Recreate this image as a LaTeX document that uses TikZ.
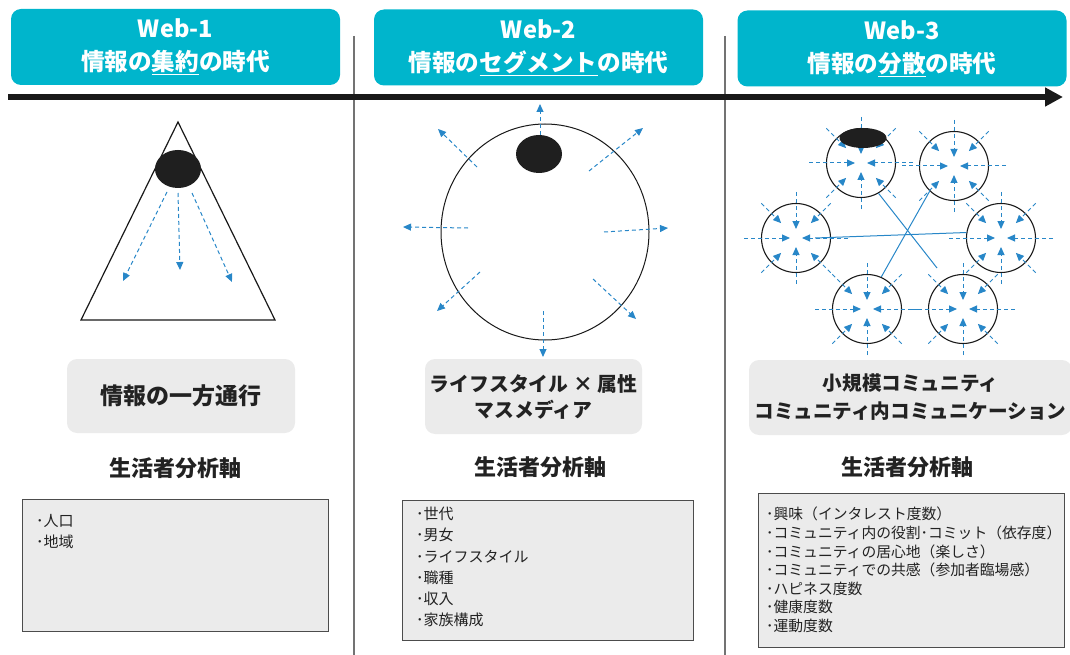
\documentclass[tikz,border=0pt]{standalone}
\usepackage{fontspec}
\setmainfont{Noto Sans CJK JP}
\usetikzlibrary{arrows.meta,calc,shapes.geometric}
\definecolor{hdrteal}{RGB}{0,181,204}
\definecolor{arrblue}{RGB}{40,135,200}
\definecolor{boxgray}{RGB}{235,235,235}
\definecolor{txtdark}{RGB}{34,34,34}
\begin{document}
\begin{tikzpicture}[x=1pt,y=-1pt,
  hdr/.style={rounded corners=10pt, fill=hdrteal, minimum width=329pt, minimum height=76pt,
    text=white, font=\bfseries\fontsize{23.6}{33}\selectfont, align=center, inner sep=0pt},
  sepline/.style={draw=black!55, line width=1.5pt},
  blob/.style={ellipse, fill=black!88, inner sep=0pt},
  darr/.style={draw=arrblue, line width=1pt, dash pattern=on 4pt off 3pt,
    -{Triangle[length=8pt,width=7pt]}},
  solidblue/.style={draw=arrblue, line width=1pt},
  gbox/.style={rounded corners=10pt, fill=boxgray, inner sep=0pt, align=center,
    text=txtdark},
  axis/.style={font=\bfseries\fontsize{22}{26}\selectfont, text=txtdark},
  listbox/.style={draw=black!70, line width=1pt, fill=boxgray, inner sep=0pt, anchor=north west},
  listtxt/.style={anchor=north west, align=left, inner sep=0pt, text=txtdark},
  smallc/.style={circle, draw=black!90, line width=1.1pt, minimum size=69pt, inner sep=0pt}
]
\useasboundingbox (0,0) rectangle (1070,655);

% headers
\node[hdr] (h1) at (175.5,47) {Web-1\\情報の\underline{集約}の時代};
\node[hdr] (h2) at (538.5,47.5) {Web-2\\情報の\underline{セグメント}の時代};
\node[hdr] (h3) at (902,48.5) {Web-3\\情報の\underline{分散}の時代};

% separators
\coordinate (s1t) at (354,36); \coordinate (s1b) at (354,655);
\coordinate (s2t) at (725,36); \coordinate (s2b) at (725,655);
\draw[sepline] (s1t) -- (s1b);
\draw[sepline] (s2t) -- (s2b);

% timeline
\coordinate (tl0) at (8,97); \coordinate (tl1) at (1063,97);
\draw[line width=6pt, black!90, -{Triangle[length=18pt,width=18pt]}] (tl0) -- (tl1);

% ---------- panel 1 ----------
\coordinate (tA) at (178,122); \coordinate (tL) at (81,320); \coordinate (tR) at (275,320);
\draw[line width=1.2pt, black!90] (tA) -- (tL) -- (tR) -- cycle;
\node[blob, minimum width=46pt, minimum height=38pt] (b1) at (178,169) {};
\draw[darr] (167,192) -- (123,281);
\draw[darr] (178,193) -- (180,270);
\draw[darr] (192,193) -- (232,282);

\node[gbox, minimum width=228pt, minimum height=74pt, font=\bfseries\fontsize{23}{27}\selectfont] (g1) at (181,396) {情報の一方通行};
\node[axis] (a1) at (175,468) {生活者分析軸};
\node[listbox, minimum width=306pt, minimum height=132pt] (l1) at (22,499) {};
\node[listtxt, font=\fontsize{15}{21}\selectfont] (t1) at (36,514) {･人口\\･地域};

% ---------- panel 2 ----------
\node[ellipse, draw=black!90, line width=1pt, minimum width=208pt, minimum height=216pt, inner sep=0pt] (c2) at (545,232) {};
\node[blob, minimum width=46pt, minimum height=38pt] (b2) at (539,154) {};
\draw[darr] (540,135) -- (540,104);
\draw[darr] (477,167) -- (438,129);
\draw[darr] (589,171) -- (643,128);
\draw[darr] (468,228) -- (403,227);
\draw[darr] (604,232) -- (668,228);
\draw[darr] (480,272) -- (437,311);
\draw[darr] (593,279) -- (636,319);
\draw[darr] (543,311) -- (543,357);

\node[gbox, minimum width=217pt, minimum height=75pt, font=\bfseries\fontsize{19.8}{26}\selectfont] (g2) at (533.5,396.5) {ライフスタイル × 属性\\マスメディア};
\node[axis] (a2) at (540,467) {生活者分析軸};
\node[listbox, minimum width=291pt, minimum height=140pt] (l2) at (402,500) {};
\node[listtxt, font=\fontsize{15}{21.2}\selectfont] (t2) at (416,507) {･世代\\･男女\\･ライフスタイル\\･職種\\･収入\\･家族構成};

% ---------- panel 3 ----------
\node[smallc] (p1) at (861,163) {};
\node[smallc] (p2) at (954,166) {};
\node[smallc] (p3) at (796,238) {};
\node[smallc] (p4) at (1001,238) {};
\node[smallc] (p5) at (867,309) {};
\node[smallc] (p6) at (963,309) {};
\foreach \c in {p1,p2,p3,p4,p5,p6}{
  \foreach \a in {0,180}{\draw[darr] ($(\c)+(\a:52pt)$) -- ($(\c)+(\a:6pt)$);}
  \foreach \a in {90,270}{\draw[darr] ($(\c)+(\a:46pt)$) -- ($(\c)+(\a:9pt)$);}
  \foreach \a in {45,135,225,315}{\draw[darr] ($(\c)+(\a:49pt)$) -- ($(\c)+(\a:21pt)$);}
}
\node[blob, minimum width=47pt, minimum height=20pt] (b3) at (863,138) {};
\coordinate (e6) at (937,268);
\draw[solidblue] (p1.300) -- (e6);
\draw[solidblue] (p2.226) -- (p5.66);
\coordinate (s3) at (815,238);
\draw[solidblue] (s3) -- (p4.171);

\node[gbox, minimum width=323pt, minimum height=75pt, font=\bfseries\fontsize{19.6}{28}\selectfont] (g3) at (910.5,397.5) {小規模コミュニティ\\コミュニティ内コミュニケーション};
\node[axis] (a3) at (907,467) {生活者分析軸};
\node[listbox, minimum width=306pt, minimum height=154pt] (l3) at (758,493) {};
\node[listtxt, font=\fontsize{14.8}{18.6}\selectfont] (t3) at (766,507) {･興味（インタレスト度数）\\･コミュニティ内の役割･コミット（依存度）\\･コミュニティの居心地（楽しさ）\\･コミュニティでの共感（参加者臨場感）\\･ハピネス度数\\･健康度数\\･運動度数};
\end{tikzpicture}
\end{document}
